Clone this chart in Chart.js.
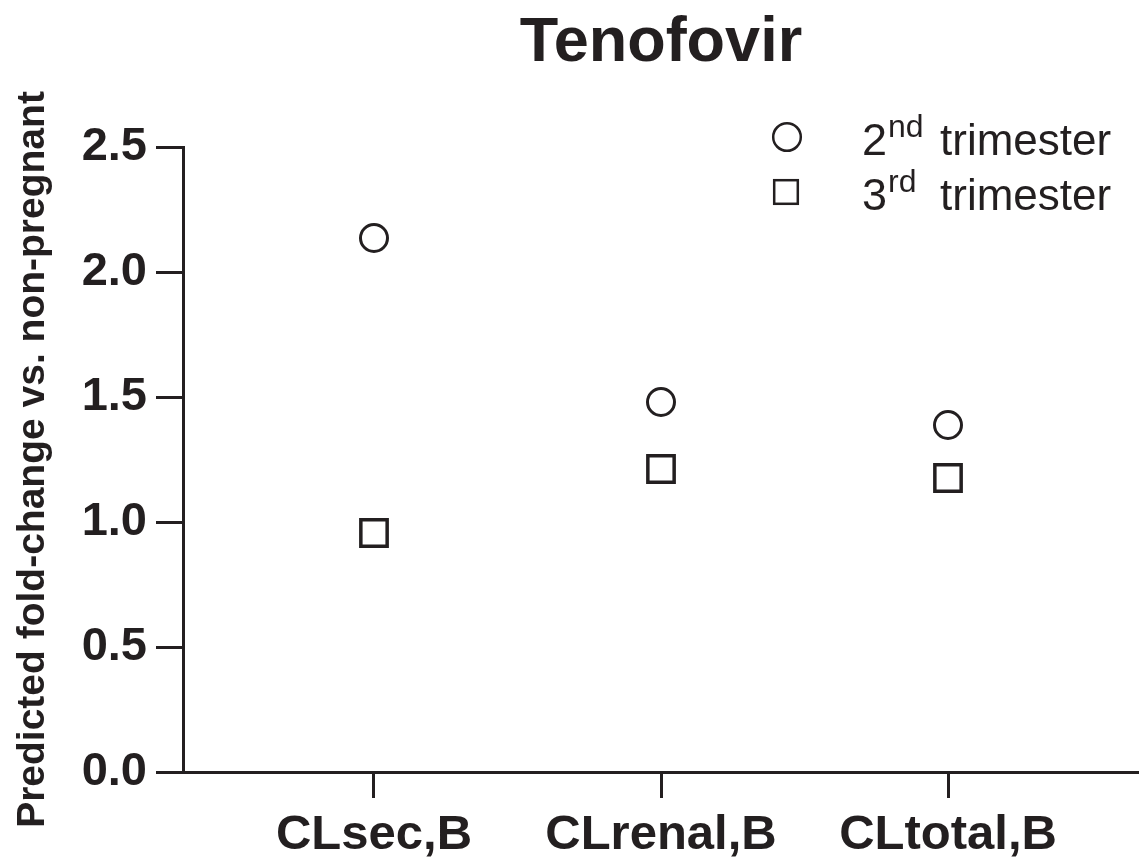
<!DOCTYPE html>
<html>
<head>
<meta charset="utf-8">
<script src="https://cdn.jsdelivr.net/npm/chart.js@4"></script>
<style>
  html, body { margin: 0; padding: 0; background: #ffffff; }
  #wrap { width: 1139px; height: 863px; }
</style>
</head>
<body>
<div id="wrap"><canvas id="c" width="1139" height="863"></canvas></div>
<script>
// ---- data ----
const categories = ['CLsec,B', 'CLrenal,B', 'CLtotal,B'];
const trimester2 = [2.136, 1.48, 1.388];
const trimester3 = [0.956, 1.212, 1.176];
const seriesNames = ['2nd trimester', '3rd trimester'];
const legendNums = ['2', '3'];
const legendSups = ['nd', 'rd'];
const legendWord = 'trimester';
const yMin = 0, yMax = 2.5, yStep = 0.5;
const chartTitle = 'Tenofovir';
const yTitle = 'Predicted fold-change vs. non-pregnant';

const INK = '#231f20';
const FONT = '"Liberation Sans", Arial, Helvetica, sans-serif';

const legendPlugin = {
  id: 'supLegend',
  afterDraw(chart) {
    const ctx = chart.ctx;
    ctx.save();
    ctx.strokeStyle = INK;
    ctx.fillStyle = INK;
    ctx.lineWidth = 2.5;
    // circle marker
    ctx.beginPath();
    ctx.arc(787, 137, 13.8, 0, Math.PI * 2);
    ctx.stroke();
    // square marker
    ctx.strokeRect(786 - 11.8, 192 - 11.8, 23.6, 23.6);
    const baselines = [155, 210];
    for (let i = 0; i < 2; i++) {
      let x = 862;
      ctx.textBaseline = 'alphabetic';
      ctx.textAlign = 'left';
      ctx.font = '45px ' + FONT;
      ctx.fillText(legendNums[i], x, baselines[i]);
      x += ctx.measureText(legendNums[i]).width + 1;
      ctx.font = '32px ' + FONT;
      ctx.fillText(legendSups[i], x, baselines[i] - 18);
      ctx.font = '44px ' + FONT;
      ctx.fillText(legendWord, 940, baselines[i]);
    }
    ctx.restore();
  }
};

const ctx = document.getElementById('c').getContext('2d');
new Chart(ctx, {
  type: 'scatter',
  data: {
    datasets: [
      {
        label: seriesNames[0],
        data: trimester2.map((v, i) => ({ x: i, y: v })),
        pointStyle: 'circle',
        pointRadius: 13.5,
        pointHoverRadius: 13.5,
        pointBorderWidth: 3,
        pointHoverBorderWidth: 3,
        borderColor: INK,
        backgroundColor: 'rgba(255,255,255,0)',
        clip: false
      },
      {
        label: seriesNames[1],
        data: trimester3.map((v, i) => ({ x: i, y: v })),
        pointStyle: 'rect',
        pointRadius: 18.6,
        pointHoverRadius: 18.6,
        pointBorderWidth: 3.5,
        pointHoverBorderWidth: 3.5,
        borderColor: INK,
        backgroundColor: 'rgba(255,255,255,0)',
        clip: false
      }
    ]
  },
  options: {
    responsive: false,
    devicePixelRatio: 1,
    animation: false,
    events: [],
    layout: { autoPadding: false, padding: { top: 0, left: 0, right: 0, bottom: 0 } },
    plugins: {
      legend: { display: false },
      tooltip: { enabled: false },
      title: {
        display: true,
        text: chartTitle,
        fullSize: false,
        color: INK,
        font: { family: FONT, size: 63, weight: 'bold', lineHeight: 1.2 },
        padding: { top: 6, bottom: 147 - 6 - 63 * 1.2 }
      }
    },
    scales: {
      x: {
        type: 'linear',
        min: -0.6655,
        max: 2.6655,
        afterBuildTicks(scale) {
          scale.ticks = categories.map((c, i) => ({ value: i }));
        },
        afterFit(scale) {
          scale.height = 91;
          scale.paddingLeft = 0;
          scale.paddingRight = 0;
        },
        ticks: {
          color: INK,
          padding: 8,
          maxRotation: 0,
          autoSkip: false,
          font: { family: FONT, size: 49, weight: 'bold', lineHeight: 1.2 },
          callback: (v) => categories[v]
        },
        grid: {
          drawOnChartArea: false,
          drawTicks: true,
          tickLength: 26,
          lineWidth: 3,
          color: INK,
          tickColor: INK
        },
        border: { display: true, color: INK, width: 3 }
      },
      y: {
        type: 'linear',
        min: yMin,
        max: yMax,
        afterFit(scale) { scale.width = 183; },
        ticks: {
          stepSize: yStep,
          color: INK,
          padding: 9,
          font: { family: FONT, size: 47, weight: 'bold', lineHeight: 1.2 },
          callback: (v) => Number(v).toFixed(1)
        },
        grid: {
          drawOnChartArea: false,
          drawTicks: true,
          tickLength: 27,
          lineWidth: 3,
          color: INK,
          tickColor: INK
        },
        border: { display: true, color: INK, width: 3 },
        title: {
          display: true,
          text: yTitle,
          color: INK,
          font: { family: FONT, size: 39, weight: 'bold', lineHeight: 1.2 },
          padding: { top: 10, bottom: 0 }
        }
      }
    }
  },
  plugins: [legendPlugin]
});
</script>
</body>
</html>
